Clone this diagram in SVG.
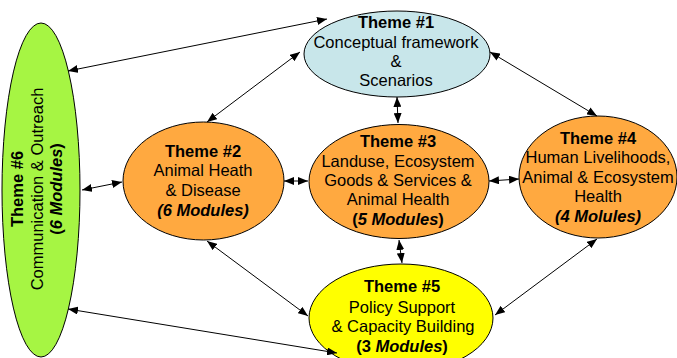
<svg xmlns="http://www.w3.org/2000/svg" width="677" height="358" viewBox="0 0 677 358">
<defs>
<marker id="ah" viewBox="0 0 10 8" refX="10" refY="4" markerWidth="10" markerHeight="8" markerUnits="userSpaceOnUse" orient="auto-start-reverse">
<path d="M0,0 L10,4 L0,8 Z" fill="#000"/>
</marker>
<style>
.n{stroke:#000;stroke-width:1}
.t{font-family:"Liberation Sans",Arial,sans-serif;font-size:16.5px;fill:#000;text-anchor:middle}
.b{font-weight:bold}
.bi{font-weight:bold;font-style:italic}
.c line{stroke:#000;stroke-width:1;marker-start:url(#ah);marker-end:url(#ah)}
</style>
</defs>
<rect width="677" height="358" fill="#fff"/>
<g id="theme6">
<ellipse class="n" cx="41" cy="190" rx="39" ry="167" fill="#A6F543"/>
<g class="t" transform="translate(0,189) rotate(-90)">
<text x="0" y="23" class="b">Theme #6</text>
<text x="0" y="43">Communication &amp; Outreach</text>
<text x="0" y="62" class="b">(<tspan class="bi">6 Modules</tspan>)</text>
</g>
</g>
<g id="theme1">
<ellipse class="n" cx="397" cy="54" rx="93" ry="43" fill="#C8E6EA"/>
<text class="t b" x="396" y="28">Theme #1</text>
<text class="t" x="396" y="48">Conceptual framework</text>
<text class="t" x="396" y="67">&amp;</text>
<text class="t" x="396" y="86">Scenarios</text>
</g>
<g id="theme2">
<ellipse class="n" cx="203.5" cy="181" rx="80.5" ry="59" fill="#FFA940"/>
<text class="t b" x="203" y="157">Theme #2</text>
<text class="t" x="203" y="176">Animal Heath</text>
<text class="t" x="203" y="196">&amp; Disease</text>
<text class="t bi" x="203" y="216">(6 Modules)</text>
</g>
<g id="theme3">
<ellipse class="n" cx="399" cy="181.5" rx="90" ry="57" fill="#FFA940"/>
<text class="t b" x="398" y="147">Theme #3</text>
<text class="t" x="398" y="167">Landuse, Ecosystem</text>
<text class="t" x="398" y="186">Goods &amp; Services &amp;</text>
<text class="t" x="398" y="205">Animal Health</text>
<text class="t b" x="398" y="225">(<tspan class="bi">5 Modules</tspan>)</text>
</g>
<g id="theme4">
<ellipse class="n" cx="598" cy="177" rx="79" ry="61" fill="#FFA940"/>
<text class="t b" x="598" y="144">Theme #4</text>
<text class="t" x="598" y="163">Human Livelihoods,</text>
<text class="t" x="598" y="183">Animal &amp; Ecosystem</text>
<text class="t" x="598" y="202">Health</text>
<text class="t bi" x="598" y="222">(4 Molules)</text>
</g>
<g id="theme5">
<ellipse class="n" cx="401" cy="318" rx="92" ry="54" fill="#FFFF00"/>
<text class="t b" x="402" y="292">Theme #5</text>
<text class="t" x="402" y="313">Policy Support</text>
<text class="t" x="403" y="332">&amp; Capacity Building</text>
<text class="t b" x="402" y="352">(3 <tspan class="bi">Modules</tspan>)</text>
</g>
<g id="connectors" class="c">
<line x1="68" y1="71" x2="327" y2="19"/>
<line x1="300" y1="52" x2="207" y2="122"/>
<line x1="397" y1="97" x2="398" y2="123"/>
<line x1="490" y1="52" x2="597" y2="116"/>
<line x1="82" y1="190" x2="122" y2="182"/>
<line x1="284" y1="181" x2="308" y2="181"/>
<line x1="489" y1="181" x2="519" y2="179"/>
<line x1="207" y1="241" x2="308" y2="316"/>
<line x1="399" y1="240" x2="402" y2="263"/>
<line x1="597" y1="239" x2="495" y2="315"/>
<line x1="68" y1="309" x2="337" y2="353"/>
</g>
</svg>
